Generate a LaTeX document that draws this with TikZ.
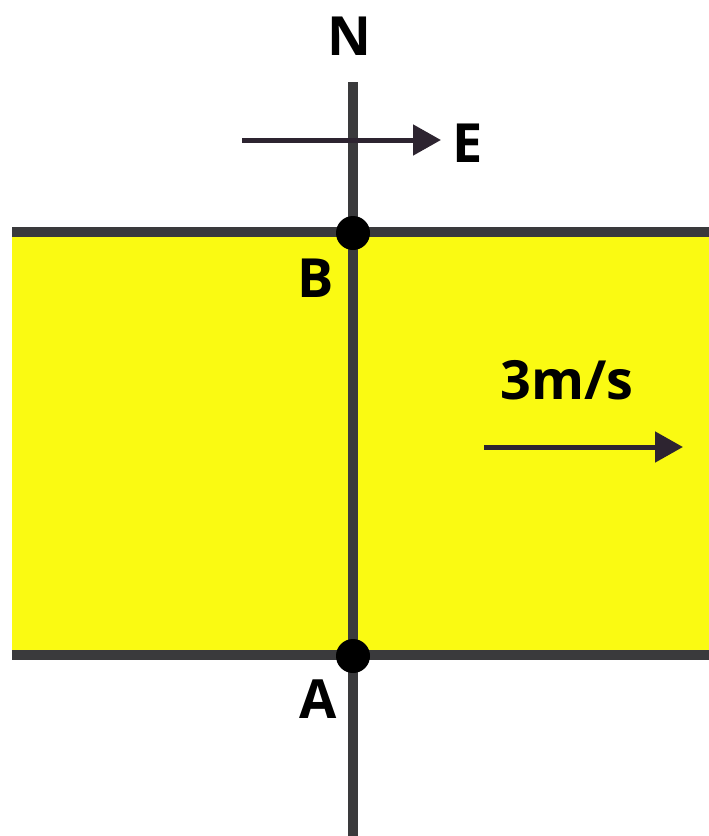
\documentclass[tikz,border=0pt]{standalone}
\usepackage{fontspec}
\setmainfont{Open Sans}
\usepackage{tikz}
\usetikzlibrary{arrows.meta}

\definecolor{riveryellow}{RGB}{250,250,18}
\definecolor{bankgray}{RGB}{58,58,60}
\definecolor{arrowdark}{RGB}{45,36,48}

\begin{document}
\begin{tikzpicture}[
  x=1pt, y=-1pt,
  river/.style={fill=riveryellow},
  bank/.style={draw=bankgray, line width=10pt},
  north/.style={draw=bankgray, line width=10pt},
  dot/.style={circle, fill=black, minimum size=34pt, inner sep=0pt},
  lab/.style={font=\fontsize{54}{60}\selectfont\bfseries, inner sep=0pt},
  arr/.style={-{Triangle[length=28pt, width=30pt]}, line width=5pt, arrowdark}]

\useasboundingbox (0,0) rectangle (709,836);

% river and banks
\coordinate (tl) at (12,232);
\coordinate (tr) at (709,232);
\coordinate (bl) at (12,655);
\coordinate (br) at (709,655);
\fill[river] (tl) rectangle (br);
\draw[bank] (tl) -- (tr);
\draw[bank] (bl) -- (br);

% north line through A and B
\coordinate (ntop) at (353,82);
\coordinate (nbot) at (353,836);
\draw[north] (ntop) -- (nbot);
\node[dot] (pB) at (353,233) {};
\node[dot] (pA) at (353,656) {};

\node[lab] (lN) at (349,36) {N};
\node[lab] (lB) at (316,278) {B};
\node[lab] (lA) at (318,699) {A};
\node[lab] (lE) at (468,143) {E};
\node[lab] (lv) at (567,380) {3m/s};

% east direction and current
\coordinate (e0) at (242,140);
\coordinate (e1) at (441,140);
\draw[arr] (e0) -- (e1);
\coordinate (c0) at (484,447);
\coordinate (c1) at (683,447);
\draw[arr] (c0) -- (c1);
\end{tikzpicture}
\end{document}
